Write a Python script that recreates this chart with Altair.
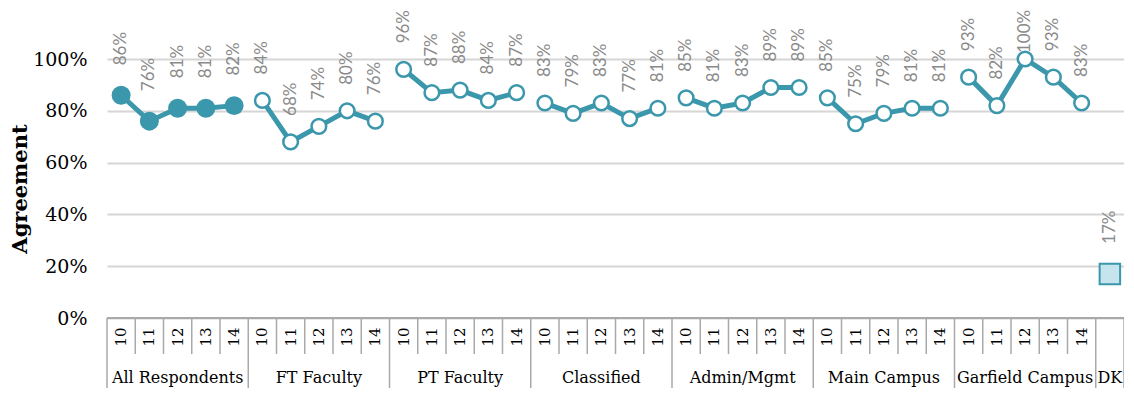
import altair as alt
import pandas as pd

# ---- data ----
groups = ["All Respondents", "FT Faculty", "PT Faculty", "Classified",
          "Admin/Mgmt", "Main Campus", "Garfield Campus", "DK"]
years = ["10", "11", "12", "13", "14"]
all_resp = [86, 76, 81, 81, 82]
ft_faculty = [84, 68, 74, 80, 76]
pt_faculty = [96, 87, 88, 84, 87]
classified = [83, 79, 83, 77, 81]
admin_mgmt = [85, 81, 83, 89, 89]
main_campus = [85, 75, 79, 81, 81]
garfield = [93, 82, 100, 93, 83]
dk = [17]

series = [all_resp, ft_faculty, pt_faculty, classified, admin_mgmt, main_campus, garfield]

rows = []
i = 0
for g, vals in zip(groups[:-1], series):
    for yr, v in zip(years, vals):
        rows.append(dict(idx=i, group=g, year=yr, value=v / 100, label=f"{v}%",
                         kind="filled" if g == "All Respondents" else "open"))
        i += 1
rows.append(dict(idx=i, group="DK", year="", value=dk[0] / 100, label=f"{dk[0]}%", kind="dk"))
df = pd.DataFrame(rows)
n = len(df)

bounds = pd.DataFrame([
    dict(pos=b - 0.5, major=(b % len(years) == 0) or (b == n)) for b in range(n + 1)
])
gcent = df.groupby("group", sort=False)["idx"].mean().reset_index()

TEAL = "#3b97ab"
GRAY = "#a9a9a9"
SERIF = "DejaVu Serif"
LBL_FONT = "Lato"
LBL_SIZE = 17
LBL_COLOR = "#8a8a8a"

W, H = 1017, 259
xs = alt.Scale(domain=[-0.5, n - 0.5], nice=False, zero=False)
ys = alt.Scale(domain=[0, 1], nice=False)

base = alt.Chart(df)

yaxis = alt.Axis(values=[0, 0.2, 0.4, 0.6, 0.8, 1.0], format=".0%", grid=True,
                 gridColor="#d6d6d6", gridWidth=2, domain=False, ticks=False,
                 labelFont=SERIF, labelFontSize=19, labelColor="#000000", labelPadding=20,
                 title="Agreement", titleFont=SERIF, titleFontSize=21, titleFontWeight="bold",
                 titleColor="#000000", titlePadding=2)

lines = base.transform_filter("datum.kind != 'dk'").mark_line(
    color=TEAL, strokeWidth=5).encode(
    x=alt.X("idx:Q", scale=xs, axis=None),
    y=alt.Y("value:Q", scale=ys, axis=yaxis),
    detail="group:N",
)

filled = base.transform_filter("datum.kind == 'filled'").mark_point(
    shape="circle", filled=True, size=360, color=TEAL, opacity=1).encode(
    x=alt.X("idx:Q", scale=xs), y=alt.Y("value:Q", scale=ys))

opened = base.transform_filter("datum.kind == 'open'").mark_point(
    shape="circle", filled=True, size=215, fill="#ffffff", stroke=TEAL,
    strokeWidth=2.5, opacity=1).encode(
    x=alt.X("idx:Q", scale=xs), y=alt.Y("value:Q", scale=ys))

square = base.transform_filter("datum.kind == 'dk'").mark_point(
    shape="square", filled=True, size=420, fill="#c6e4ee", stroke=TEAL,
    strokeWidth=2, opacity=1).encode(
    x=alt.X("idx:Q", scale=xs), y=alt.Y("value:Q", scale=ys))

def value_labels(flt, dx):
    return base.transform_filter(flt).mark_text(
        angle=270, align="left", baseline="middle", dx=dx, font=LBL_FONT,
        fontSize=LBL_SIZE, color=LBL_COLOR).encode(
        x=alt.X("idx:Q", scale=xs), y=alt.Y("value:Q", scale=ys), text="label:N")

labels_open = value_labels("datum.kind == 'open' && datum.value < 1", 26)
labels_top = value_labels("datum.kind == 'open' && datum.value >= 1", 6)
labels_big = value_labels("datum.kind != 'open'", 30)

baseline = alt.Chart(df).mark_rule(color=GRAY, strokeWidth=2).encode(
    x=alt.value(0), x2=alt.value(W), y=alt.value(H))

minor_sep = alt.Chart(bounds).transform_filter("!datum.major").mark_rule(
    color=GRAY, strokeWidth=1.5).encode(
    x=alt.X("pos:Q", scale=xs), y=alt.value(H), y2=alt.value(H + 36))

major_sep = alt.Chart(bounds).transform_filter("datum.major").mark_rule(
    color=GRAY, strokeWidth=1.5).encode(
    x=alt.X("pos:Q", scale=xs), y=alt.value(H), y2=alt.value(H + 72))

year_text = base.mark_text(angle=270, align="center", baseline="middle",
                           font=SERIF, fontSize=15, color="#000000").encode(
    x=alt.X("idx:Q", scale=xs), y=alt.value(H + 19), text="year:N")

group_text = alt.Chart(gcent).mark_text(align="center", baseline="middle",
                                        font=SERIF, fontSize=16, color="#000000").encode(
    x=alt.X("idx:Q", scale=xs), y=alt.value(H + 60), text="group:N")

chart = alt.layer(
    lines, baseline, minor_sep, major_sep, year_text, group_text,
    filled, opened, square, labels_open, labels_top, labels_big,
).properties(
    width=W, height=H,
    autosize=alt.AutoSizeParams(type="none"),
    padding={"left": 99, "top": 51, "right": 0, "bottom": 70},
).configure_view(stroke=None)

chart.save("out.html", embed_options={"renderer": "svg", "actions": False})
